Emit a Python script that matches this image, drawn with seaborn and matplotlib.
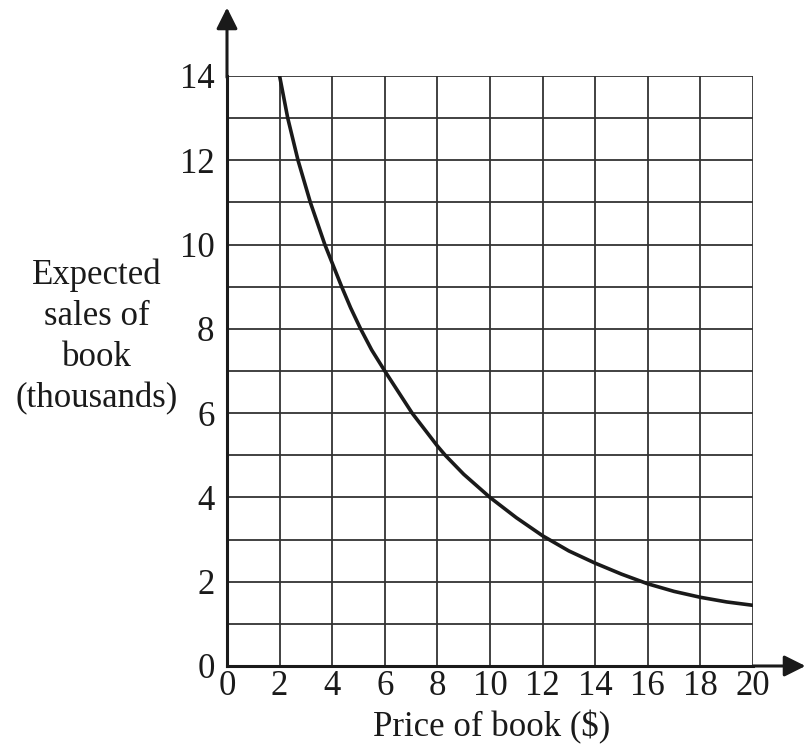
import seaborn as sns
import matplotlib.pyplot as plt
import pandas as pd
import numpy as np

# Price of book ($) vs expected sales (thousands)
price = [2, 2.31, 2.7, 3.17, 3.72, 4.36, 4.7, 5.08, 5.5, 6, 7.04, 8, 8.3, 9, 10,
         11, 12, 13, 14, 15, 16, 17, 18, 19, 20]
sales = [14, 13, 12, 11, 10, 9, 8.5, 8, 7.5, 7, 6, 5.22, 5, 4.55, 4.0,
         3.52, 3.09, 2.73, 2.44, 2.18, 1.95, 1.77, 1.63, 1.52, 1.44]

x_ticks = list(range(0, 21, 2))
y_ticks = list(range(0, 15, 2))

df = pd.DataFrame({"price": price, "sales": sales})

sns.set_style("white")
plt.rcParams["font.family"] = ["Liberation Serif", "DejaVu Serif"]

fig = plt.figure(figsize=(8.08, 7.51), dpi=100)
ax = fig.add_axes([227 / 808, 1 - 666 / 751, 526 / 808, 590 / 751])

# grid
for gx in x_ticks[1:]:
    ax.axvline(gx, color="#333333", lw=1.3, zorder=1)
for gy in range(1, 15):
    ax.axhline(gy, color="#333333", lw=1.3, zorder=1)

sns.lineplot(data=df, x="price", y="sales", ax=ax, color="#1a1a1a", lw=2.6,
             zorder=3, solid_joinstyle="round")

ax.set_xlim(0, 20)
ax.set_ylim(0, 14)
for s in ["top", "right"]:
    ax.spines[s].set_visible(False)
for s in ["left", "bottom"]:
    ax.spines[s].set_linewidth(2.2)
    ax.spines[s].set_color("#1a1a1a")

ax.set_xticks(x_ticks)
ax.set_yticks(y_ticks)
ax.set_yticks(range(1, 15, 2), minor=True)
ax.tick_params(axis="both", which="both", direction="out", length=5, width=2,
               color="#1a1a1a", labelsize=25, labelcolor="#1a1a1a")
ax.tick_params(axis="x", pad=-2)
ax.tick_params(axis="y", pad=4)
ax.set_xlabel("")
ax.set_ylabel("")

# axis arrows
ax.annotate("", xy=(0, 15.69), xytext=(0, 13.9), annotation_clip=False,
            arrowprops=dict(arrowstyle="-|>", color="#1a1a1a", lw=2.2, mutation_scale=32))
ax.annotate("", xy=(22.1, 0), xytext=(19.9, 0), annotation_clip=False,
            arrowprops=dict(arrowstyle="-|>", color="#1a1a1a", lw=2.2, mutation_scale=32))

fig.text(492 / 808, 1 - 727 / 751, "Price of book ($)", ha="center", va="center",
         fontsize=25, color="#1a1a1a")
fig.text(97 / 808, 1 - 337 / 751, "Expected\nsales of\nbook\n(thousands)", ha="center",
         va="center", fontsize=25, color="#1a1a1a", linespacing=1.33)

fig.savefig("out.png", dpi=100)
plt.close(fig)
